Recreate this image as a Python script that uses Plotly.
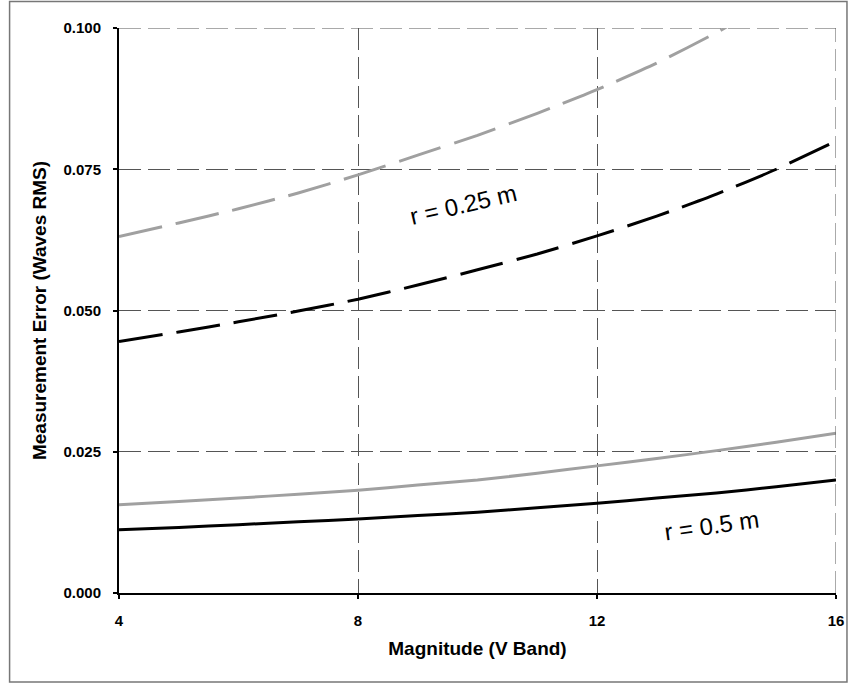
import plotly.graph_objects as go

# Data
mag = [4, 5, 6, 7, 8, 9, 10, 11, 12, 13, 14, 15, 16]
err_025_gray = [0.0631, 0.0655, 0.0680, 0.0708, 0.0740, 0.0775, 0.0810, 0.0849, 0.0891, 0.0938, 0.0992, 0.1052, 0.1118]
err_025_black = [0.0445, 0.0462, 0.0480, 0.0499, 0.0520, 0.0545, 0.0572, 0.0600, 0.0632, 0.0667, 0.0706, 0.0750, 0.0800]
err_05_gray = [0.0156, 0.0162, 0.0168, 0.0175, 0.0182, 0.0191, 0.0200, 0.0212, 0.0225, 0.0238, 0.0252, 0.0267, 0.0283]
err_05_black = [0.0112, 0.0116, 0.0121, 0.0126, 0.0131, 0.0137, 0.0143, 0.0151, 0.0159, 0.0168, 0.0177, 0.0188, 0.0200]

x_ticks = [4, 8, 12, 16]
y_ticks = [0.0, 0.025, 0.05, 0.075, 0.1]
y_tick_text = ["0.000", "0.025", "0.050", "0.075", "0.100"]

FONT = "Liberation Sans, Arial, sans-serif"
GRAY = "#a0a0a0"

fig = go.Figure()
series = [
    (err_025_gray, GRAY, "44px,14px"),
    (err_025_black, "black", "44px,14px"),
    (err_05_gray, GRAY, "solid"),
    (err_05_black, "black", "solid"),
]
for vals, col, dash in series:
    fig.add_trace(go.Scatter(x=mag, y=vals, mode="lines",
                             line=dict(color=col, width=3, dash=dash, shape="spline", smoothing=0.6),
                             showlegend=False, hoverinfo="skip"))

axis_common = dict(
    showgrid=True, gridcolor="#555555", gridwidth=1, griddash="22px,7px",
    showline=True, linecolor="black", linewidth=2,
    ticks="outside", ticklen=4, tickwidth=2, tickcolor="black",
    zeroline=False, mirror=False,
    tickfont=dict(family=FONT, size=15, color="black", weight="bold"),
    title_font=dict(family=FONT, size=19, color="black", weight="bold"),
)

fig.update_xaxes(range=[4, 16], tickvals=x_ticks, ticktext=[str(t) for t in x_ticks],
                 title_text="Magnitude (V Band)", title_standoff=14, ticklabelstandoff=9, **axis_common)
fig.update_yaxes(range=[0, 0.1], tickvals=y_ticks, ticktext=y_tick_text,
                 title_text="Measurement Error (Waves RMS)", title_standoff=12, ticklabelstandoff=9, **axis_common)

# Top and right dashed borders (gridlines at range edges)
fig.add_shape(type="line", xref="x", yref="y", x0=4, x1=16, y0=0.1, y1=0.1,
              line=dict(color="#555555", width=1, dash="22px,7px"))
fig.add_shape(type="line", xref="x", yref="y", x0=16, x1=16, y0=0, y1=0.1,
              line=dict(color="#555555", width=1, dash="22px,7px"))

# Outer frame
fig.add_shape(type="rect", xref="paper", yref="paper",
              x0=-0.1526, x1=1.0153, y0=-0.1577, y1=1.047,
              line=dict(color="#777777", width=1.5), layer="below")

fig.add_annotation(x=9.76, y=0.0687, xref="x", yref="y", text="r = 0.25 m", showarrow=False,
                   textangle=-13, font=dict(family=FONT, size=24, color="black"))
fig.add_annotation(x=13.92, y=0.0120, xref="x", yref="y", text="r = 0.5 m", showarrow=False,
                   textangle=-8, font=dict(family=FONT, size=24, color="black"))

fig.update_layout(
    width=856, height=684,
    margin=dict(l=119, r=16, t=28, b=91),
    plot_bgcolor="white", paper_bgcolor="white",
)

fig.write_html("out.html")
